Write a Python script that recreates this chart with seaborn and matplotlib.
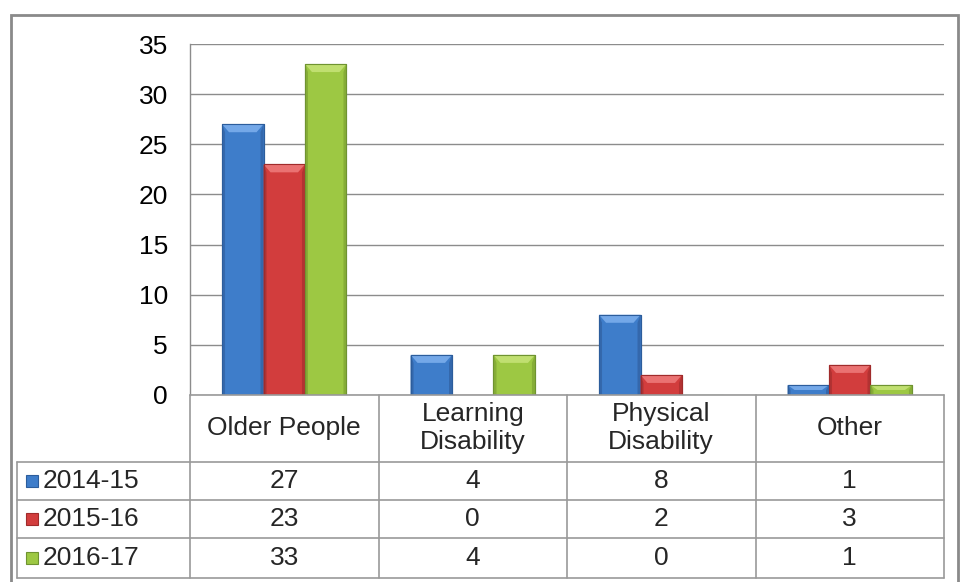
import matplotlib
matplotlib.use("Agg")
import matplotlib.pyplot as plt
import seaborn as sns
import pandas as pd
from matplotlib.lines import Line2D
from matplotlib.patches import Rectangle, Polygon

categories = ["Older People", "Learning\nDisability", "Physical\nDisability", "Other"]
series = ["2014-15", "2015-16", "2016-17"]
v2014 = [27, 4, 8, 1]
v2015 = [23, 0, 2, 3]
v2016 = [33, 4, 0, 1]
colors = ["#3E7DCA", "#D23D3D", "#9DC843"]
edges = ["#2C5D9C", "#A02B2B", "#6F9331"]
tops = ["#74A8E8", "#EA7272", "#C0DF70"]
sides = ["#3468AC", "#B33232", "#86AD37"]

values = [v2014, v2015, v2016]
rows = []
for s, vals in zip(series, values):
    for c, v in zip(categories, vals):
        rows.append({"Category": c, "Series": s, "Value": v})
df = pd.DataFrame(rows)

sns.set_style("white")
plt.rcParams["font.family"] = ["Liberation Sans", "DejaVu Sans"]

W, H = 960, 582
fig = plt.figure(figsize=(W / 100, H / 100), dpi=100)

def fx(x):
    return x / W

def fy(y):
    return 1 - y / H

L, R, T, B = 190, 944, 44, 395
ax = fig.add_axes([fx(L), fy(B), (R - L) / W, (B - T) / H])
sns.barplot(data=df, x="Category", y="Value", hue="Series", palette=colors,
            width=0.66, ax=ax, legend=False, saturation=1)

ax.set_xlim(-0.5, 3.5)
ax.set_ylim(0, 35)

# bevel decoration on each bar (derived from the bar patches)
px_x = 4.0 / (R - L)      # data units per pixel in x
px_y = 35.0 / (B - T)     # data units per pixel in y
for i, cont in enumerate(ax.containers):
    for p in cont:
        p.set_edgecolor(edges[i])
        p.set_linewidth(0.8)
        h = p.get_height()
        if h <= 0:
            continue
        x0 = p.get_x()
        w = p.get_width()
        bx = 7 * px_x
        by = min(8 * px_y, h / 2)
        sx = 3 * px_x
        # top bevel
        ax.add_patch(Polygon([[x0, h], [x0 + w, h], [x0 + w - bx, h - by], [x0 + bx, h - by]],
                             closed=True, facecolor=tops[i], edgecolor="none", zorder=p.get_zorder() + 0.1))
        # side bevels
        ax.add_patch(Polygon([[x0, 0], [x0, h], [x0 + sx, h - by], [x0 + sx, 0]],
                             closed=True, facecolor=sides[i], edgecolor="none", zorder=p.get_zorder() + 0.1))
        ax.add_patch(Polygon([[x0 + w, 0], [x0 + w, h], [x0 + w - sx, h - by], [x0 + w - sx, 0]],
                             closed=True, facecolor=sides[i], edgecolor="none", zorder=p.get_zorder() + 0.1))
        ax.add_patch(Rectangle((x0, 0), w, h, facecolor="none", edgecolor=edges[i], lw=0.8,
                               zorder=p.get_zorder() + 0.2))

ax.set_yticks(range(0, 36, 5))
ax.set_xticks([])
ax.set_xlabel("")
ax.set_ylabel("")
ax.yaxis.grid(True, color="#8C8C8C", linewidth=1)
ax.set_axisbelow(True)
for side in ["top", "right", "bottom"]:
    ax.spines[side].set_visible(False)
ax.spines["left"].set_color("#8C8C8C")
ax.spines["left"].set_linewidth(1)
ax.tick_params(axis="y", length=0, pad=16, labelsize=19, labelcolor="#000000")

line_c = "#9A9A9A"
def hline(y, x0, x1):
    fig.add_artist(Line2D([fx(x0), fx(x1)], [fy(y), fy(y)], color=line_c, lw=1.2))

def vline(x, y0, y1):
    fig.add_artist(Line2D([fx(x), fx(x)], [fy(y0), fy(y1)], color=line_c, lw=1.2))

# table grid
col_x = [190, 378.5, 567, 755.5, 944]
row_y = [395, 462, 500, 538, 578]
hline(395, 190, 944)
for y in row_y[1:]:
    hline(y, 17, 944)
for x in col_x:
    vline(x, 395, 578)
vline(17, 462, 578)

# header labels
for i, c in enumerate(categories):
    cx = (col_x[i] + col_x[i + 1]) / 2
    fig.text(fx(cx), fy(428), c, ha="center", va="center", fontsize=19,
             linespacing=1.25)

# rows
for r, (s, vals) in enumerate(zip(series, values)):
    cy = (row_y[r + 1] + row_y[r + 2]) / 2
    fig.add_artist(Rectangle((fx(26), fy(cy + 6)), 12 / W, 12 / H,
                             facecolor=colors[r], edgecolor=edges[r], lw=0.8))
    fig.text(fx(43), fy(cy), s, ha="left", va="center", fontsize=19)
    for i, v in enumerate(vals):
        cx = (col_x[i] + col_x[i + 1]) / 2
        fig.text(fx(cx), fy(cy), str(v), ha="center", va="center", fontsize=19)

# outer chart border
fig.add_artist(Rectangle((fx(11), fy(600)), (958 - 11) / W, (600 - 15) / H,
                         facecolor="none", edgecolor="#8A8A8A", lw=2))

fig.savefig("out.png", dpi=100)
